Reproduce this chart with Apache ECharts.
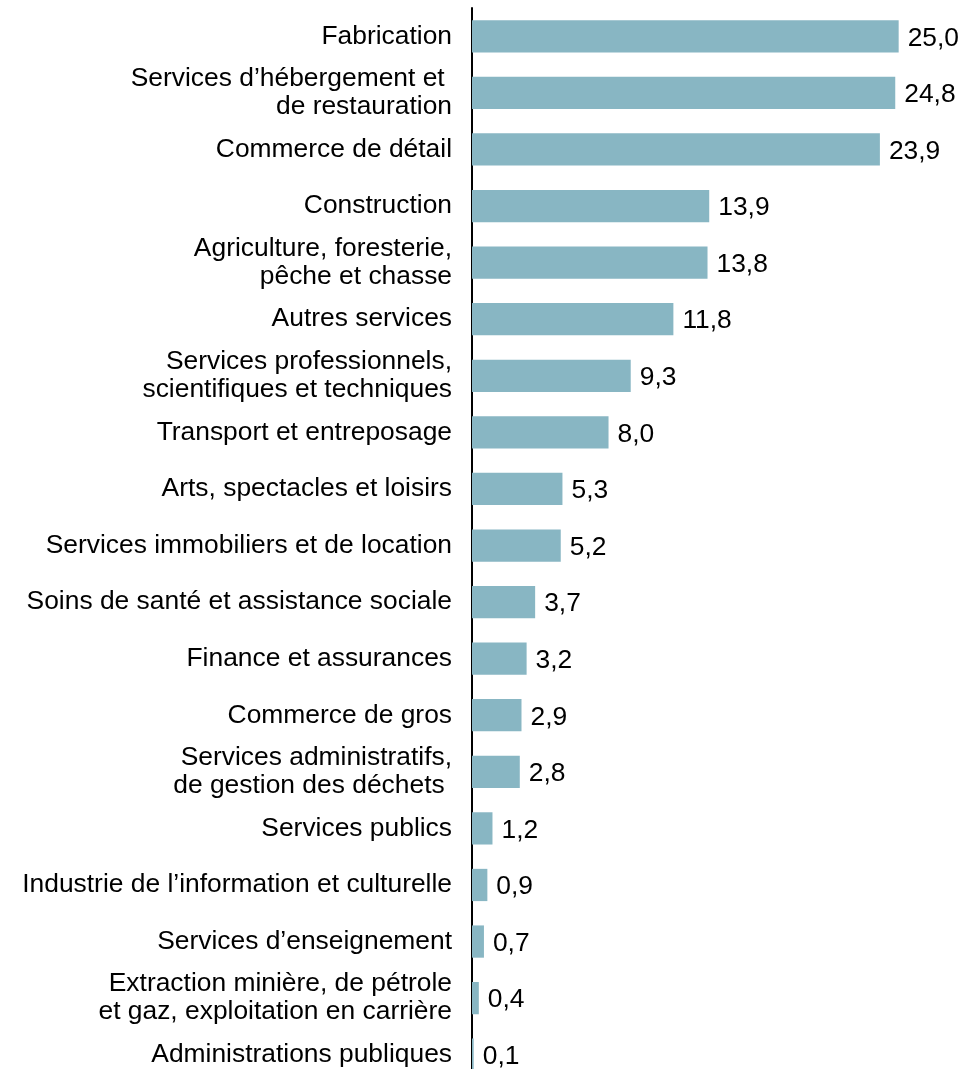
<!DOCTYPE html>
<html><head><meta charset="utf-8">
<script src="https://cdn.jsdelivr.net/npm/echarts@6/dist/echarts.min.js"></script>
<style>html,body{margin:0;padding:0;background:#fff}#c{width:977px;height:1069px}</style>
</head><body><div id="c"></div>
<script>
const categories = [
  "Fabrication",
  "Services d’hébergement et \nde restauration",
  "Commerce de détail",
  "Construction",
  "Agriculture, foresterie,\npêche et chasse",
  "Autres services",
  "Services professionnels,\nscientifiques et techniques",
  "Transport et entreposage",
  "Arts, spectacles et loisirs",
  "Services immobiliers et de location",
  "Soins de santé et assistance sociale",
  "Finance et assurances",
  "Commerce de gros",
  "Services administratifs,\nde gestion des déchets ",
  "Services publics",
  "Industrie de l’information et culturelle",
  "Services d’enseignement",
  "Extraction minière, de pétrole\net gaz, exploitation en carrière",
  "Administrations publiques"
];
const values = [25.0, 24.8, 23.9, 13.9, 13.8, 11.8, 9.3, 8.0, 5.3, 5.2, 3.7, 3.2, 2.9, 2.8, 1.2, 0.9, 0.7, 0.4, 0.1];

const chart = echarts.init(document.getElementById('c'), null, {renderer: 'canvas'});
const FONT = '"Liberation Sans", Arial, sans-serif';
chart.setOption({
  animation: false,
  grid: {left: 472, top: 8, width: 512, height: 1075, containLabel: false, outerBoundsMode: 'none'},
  xAxis: {type: 'value', min: 0, max: 30, show: false},
  yAxis: {
    type: 'category', data: categories, inverse: true,
    axisLine: {show: true, lineStyle: {color: '#000', width: 2}},
    axisTick: {show: false},
    axisLabel: {color: '#000', fontSize: 26.4, fontFamily: FONT, margin: 20, lineHeight: 28, align: 'right',
      padding: [9, 0, 0, 0]}
  },
  series: [{
    type: 'bar', data: values, barCategoryGap: '43%',
    itemStyle: {color: '#88B6C3'},
    label: {show: true, position: 'right', distance: 9, color: '#000', fontSize: 26.4, fontFamily: FONT,
      offset: [0, 2],
      formatter: p => p.value.toFixed(1).replace('.', ',')}
  }]
});
</script></body></html>
